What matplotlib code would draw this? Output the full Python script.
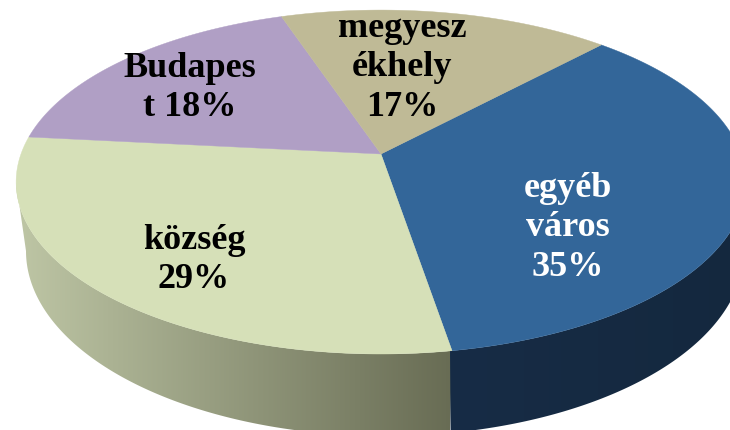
import numpy as np
import matplotlib.pyplot as plt
from matplotlib.patches import Polygon

plt.rcParams.update({"font.family": ["Liberation Serif", "DejaVu Serif"]})

labels = ["egyéb\nváros\n35%", "község\n29%", "Budapes\nt 18%", "megyesz\nékhely\n17%"]
values = [35, 29, 18, 17]
colors = ["#336699", "#D6E0B8", "#B09FC5", "#BFBA96"]
text_colors = ["white", "black", "black", "black"]
label_x = [568, 194, 190, 402]
label_y = [228, 260, 88, 68]

start_angle = 46.8
apex_x, apex_y = 381, 155
a_top, b_top, persp = 360, 167.4, 0.163
# bottom rim of the disc
rim_x, rim_y, rim_a, rim_b = 385, 252, 359, 185


def project(theta):
    X = np.cos(np.radians(theta))
    Y = np.sin(np.radians(theta))
    w = 1 + persp * Y
    return apex_x + a_top * X / w, apex_y - b_top * Y / w


def rim_points(t_from, t_to):
    t = np.radians(np.linspace(t_from, t_to, 300))
    return rim_x + rim_a * np.cos(t), rim_y - rim_b * np.sin(t)


def gradient_wall(ax, pts, c_left, c_right):
    xs = np.linspace(0, 1, 256)[None, :, None]
    img = np.array(c_left)[None, None, :] * (1 - xs) + np.array(c_right)[None, None, :] * xs
    x0, x1 = pts[:, 0].min(), pts[:, 0].max()
    im = ax.imshow(img / 255, extent=(x0, x1, 431, 0), aspect="auto", zorder=1)
    patch = Polygon(pts, closed=True, transform=ax.transData, fc="none", ec="none")
    ax.add_patch(patch)
    im.set_clip_path(patch)


fig = plt.figure(figsize=(7.3, 4.31), dpi=100)
ax = fig.add_axes([0, 0, 1, 1])

angles = start_angle - np.cumsum([0] + values) / sum(values) * 360

# side walls
arc = np.linspace(angles[1], angles[2], 200)
gx, gy = project(arc)
i = np.argmin(gx)
x_low, y_low = rim_points(180, 290)
keep = x_low <= gx[0]
green_pts = np.vstack(
    [np.c_[gx[: i + 1], gy[: i + 1]], np.c_[x_low[keep], y_low[keep]]]
)
gradient_wall(ax, green_pts, (190, 198, 165), (104, 108, 84))

arc = np.linspace(angles[0], angles[1], 300)
bx, by = project(arc)
i = np.argmax(bx)
x_low, y_low = rim_points(270, 360)
# overlap the green wall a little so no seam shows between them
keep = x_low >= bx[-1] - 2
blue_pts = np.vstack(
    [np.c_[bx[i:], by[i:]], [[bx[-1] - 2, by[-1]]], np.c_[x_low[keep], y_low[keep]]]
)
gradient_wall(ax, blue_pts, (23, 44, 70), (20, 40, 62))

# top of the disc
for k in range(len(values)):
    arc = np.linspace(angles[k], angles[k + 1], 200)
    x, y = project(arc)
    pts = np.vstack([[apex_x, apex_y], np.c_[x, y]])
    ax.add_patch(Polygon(pts, closed=True, fc=colors[k], ec=colors[k], lw=0.3, zorder=2))
    ax.text(
        label_x[k],
        label_y[k],
        labels[k],
        color=text_colors[k],
        fontsize=26,
        fontweight="bold",
        ha="center",
        va="center",
        linespacing=1.27,
        zorder=3,
    )

ax.set_xlim(0, 730)
ax.set_ylim(431, 0)
ax.axis("off")
fig.savefig("out.png", dpi=100)
